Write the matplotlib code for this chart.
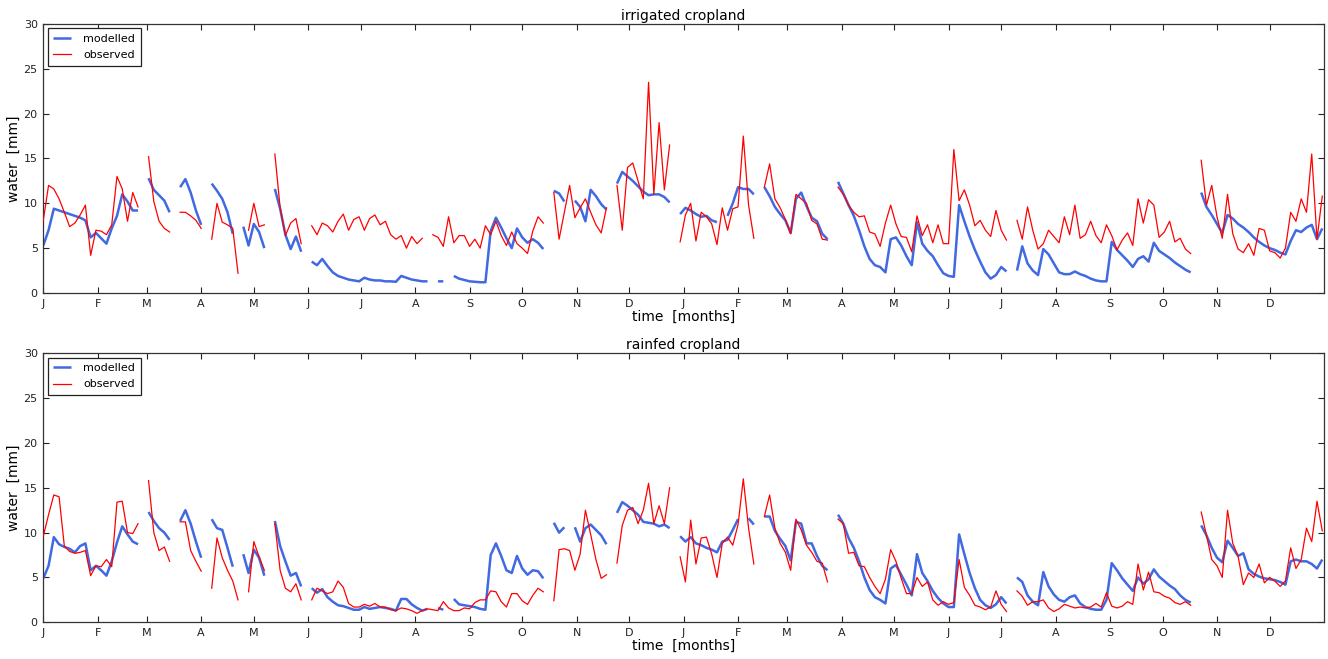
import numpy as np
import matplotlib
matplotlib.use("Agg")
import matplotlib.pyplot as plt

nan = np.nan

# ---- data: values every 3 days over two years (day 0 .. 729) ----
month_labels = ['J', 'F', 'M', 'A', 'M', 'J', 'J', 'A', 'S', 'O', 'N', 'D'] * 2
month_lengths = [31, 28, 31, 30, 31, 30, 31, 31, 30, 31, 30, 31] * 2
step_days = 3

irr_modelled = [
    5.3, 7.0, 9.4, 9.2, 9.0, 8.8, 8.6, 8.4, 8.1, 6.2, 6.7,
    6.1, 5.5, 7.2, 8.6, 11.0, 10.2, 9.2, 9.2, nan,
    12.8, 11.5, 10.9, 10.3, 9.0, nan, 11.8, 12.7, 11.2, 9.2,
    7.6, nan, 12.2, 11.4, 10.5, 9.0, 6.6, nan, 7.4, 5.3,
    7.7, 6.8, 5.0, nan, 11.6, 9.4, 6.5, 4.9, 6.3, 4.6, nan,
    3.5, 3.1, 3.8, 3.0, 2.3, 1.9, 1.7, 1.5, 1.4, 1.3,
    1.7, 1.5, 1.4, 1.4, 1.3, 1.3, 1.25, 1.9, 1.7, 1.5,
    1.4, 1.3, 1.3, nan, 1.3, 1.3, nan, 1.9, 1.6, 1.45,
    1.3, 1.25, 1.2, 1.2, 6.9, 8.4, 7.3, 6.1, 5.0, 7.2,
    6.2, 5.6, 6.0, 5.6, 4.9, nan, 11.4, 11.1, 10.2, nan, 10.3,
    9.6, 8.0, 11.5, 10.8, 9.9, 9.3, nan, 12.2, 13.5, 13.0,
    12.5, 11.9, 11.3, 10.9, 11.0, 11.0, 10.7, 10.1, nan, 8.8,
    9.5, 9.2, 8.8, 8.5, 8.6, 8.1, 7.9, nan, 8.6, 10.0,
    11.8, 11.6, 11.6, 11.0, nan, 11.8, 10.8, 9.6, 8.8, 8.1,
    6.7, 10.5, 11.2, 9.7, 8.4, 8.0, 6.6, 6.0, nan, 12.4,
    11.1, 9.8, 8.6, 7.0, 5.2, 3.8, 3.1, 2.9, 2.3, 6.0,
    6.2, 5.3, 4.1, 3.1, 7.9, 5.5, 4.7, 4.1, 3.1, 2.2,
    1.9, 1.8, 9.8, 8.0, 6.3, 4.8, 3.5, 2.3, 1.6, 2.0,
    2.9, 2.4, nan, 2.5, 5.2, 3.3, 2.5, 2.0, 4.9, 4.3, 3.3,
    2.3, 2.1, 2.1, 2.4, 2.1, 1.9, 1.6, 1.4, 1.3, 1.3,
    5.7, 4.8, 4.2, 3.6, 2.9, 3.8, 4.1, 3.5, 5.6, 4.7,
    4.3, 3.9, 3.4, 3.0, 2.6, 2.3, nan, 11.2, 9.6, 8.7,
    7.7, 6.7, 8.7, 8.3, 7.7, 7.3, 6.8, 6.2, 5.7, 5.3,
    5.0, 4.8, 4.5, 4.3, 5.8, 7.0, 6.8, 7.3, 7.6, 6.0, 7.2,
]

irr_observed = [
    8.1, 12.0, 11.6, 10.5, 9.0, 7.4, 7.8, 8.7, 9.8, 4.2, 7.0,
    6.9, 6.5, 7.6, 13.0, 11.6, 8.0, 11.2, 9.6, nan,
    15.2, 10.2, 8.0, 7.2, 6.8, nan, 9.0, 9.0, 8.6, 8.1,
    7.2, nan, 6.0, 10.0, 7.9, 7.6, 7.2, 2.2, nan, 7.0,
    10.0, 7.4, 7.6, nan, 15.5, 9.5, 6.4, 7.8, 8.3, 5.5, nan,
    7.5, 6.5, 7.8, 7.5, 6.8, 8.0, 8.8, 7.0, 8.2, 8.5,
    7.0, 8.3, 8.7, 7.6, 8.0, 6.5, 6.0, 6.4, 5.0, 6.3,
    5.5, 6.1, nan, 6.5, 6.2, 5.2, 8.5, 5.6, 6.4, 6.4,
    5.2, 6.0, 5.0, 7.5, 6.5, 8.0, 6.4, 5.3, 6.8, 5.5,
    5.0, 4.4, 6.9, 8.5, 7.8, nan, 11.2, 6.0, 9.0, 12.0, 8.4,
    9.5, 10.5, 9.0, 7.6, 6.7, 9.5, nan, 12.0, 7.0, 14.0,
    14.5, 12.5, 10.5, 23.5, 11.0, 19.0, 11.5, 16.5, nan, 5.7,
    8.7, 10.0, 5.8, 9.0, 8.5, 7.7, 5.4, 9.5, 7.0, 9.4,
    9.6, 17.5, 9.8, 6.1, nan, 11.8, 14.4, 10.5, 9.5, 8.2,
    6.6, 11.0, 10.5, 10.0, 8.1, 7.7, 6.0, 5.9, nan, 11.8,
    11.0, 9.8, 9.0, 8.5, 8.6, 6.8, 6.6, 5.2, 7.8, 9.8,
    7.7, 6.3, 6.2, 4.6, 8.6, 6.4, 7.6, 5.6, 7.6, 5.5,
    5.5, 16.0, 10.3, 11.5, 9.8, 7.5, 8.1, 7.0, 6.3, 9.2,
    7.0, 5.9, nan, 8.1, 6.0, 9.6, 7.0, 4.9, 5.5, 7.0, 6.3,
    5.6, 8.5, 6.5, 9.8, 6.1, 6.5, 8.0, 6.4, 5.6, 7.6,
    6.4, 4.8, 5.9, 6.7, 5.3, 10.5, 7.8, 10.4, 9.8, 6.2,
    6.8, 8.0, 5.7, 6.1, 4.9, 4.4, nan, 14.8, 9.8, 12.0,
    8.5, 6.1, 11.0, 6.6, 4.9, 4.5, 5.5, 4.2, 7.2, 7.0,
    4.7, 4.5, 3.9, 5.0, 9.0, 8.0, 10.5, 9.0, 15.5, 6.0, 10.8,
]

rain_modelled = [
    4.9, 6.3, 9.5, 8.7, 8.4, 8.2, 7.8, 8.5, 8.8, 5.8, 6.3,
    5.8, 5.2, 6.8, 8.9, 10.7, 9.8, 9.0, 8.7, nan,
    12.3, 11.3, 10.5, 10.0, 9.2, nan, 11.3, 12.5, 11.0, 9.0,
    7.2, nan, 11.5, 10.5, 10.3, 8.3, 6.2, nan, 7.6, 5.5,
    8.1, 7.2, 5.2, nan, 11.3, 8.5, 6.8, 5.2, 5.5, 4.0, nan,
    3.8, 3.3, 3.7, 2.8, 2.3, 1.9, 1.8, 1.6, 1.4, 1.4,
    1.7, 1.5, 1.6, 1.7, 1.6, 1.5, 1.3, 2.6, 2.6, 2.0,
    1.6, 1.3, 1.5, nan, 1.6, 1.4, nan, 2.6, 2.0, 1.9,
    1.8, 1.7, 1.5, 1.4, 7.5, 8.8, 7.4, 5.8, 5.5, 7.4,
    6.0, 5.3, 5.8, 5.7, 4.9, nan, 11.1, 10.0, 10.6, nan, 10.6,
    9.0, 10.5, 10.9, 10.3, 9.7, 8.7, nan, 12.2, 13.4, 13.0,
    12.5, 12.0, 11.2, 11.1, 11.0, 10.7, 10.9, 10.5, nan, 9.6,
    9.0, 9.5, 8.8, 8.6, 8.3, 8.1, 7.8, 9.0, 9.2, 10.3,
    11.5, nan, 11.6, 10.9, nan, 11.8, 11.8, 10.2, 9.3, 8.5,
    6.9, 11.2, 11.0, 8.8, 8.8, 7.4, 6.3, 5.8, nan, 12.0,
    11.0, 9.4, 8.3, 6.8, 5.0, 3.6, 2.8, 2.5, 2.1, 6.0,
    6.4, 5.3, 4.2, 3.0, 7.6, 5.5, 4.6, 3.5, 2.7, 2.1,
    1.7, 1.7, 9.8, 7.6, 5.5, 3.8, 2.5, 1.9, 1.6, 2.0,
    2.8, 2.1, nan, 5.0, 4.5, 3.0, 2.3, 1.9, 5.6, 4.0, 3.1,
    2.5, 2.3, 2.8, 3.0, 2.1, 1.7, 1.5, 1.4, 1.4, 2.5,
    6.6, 5.8, 4.9, 4.2, 3.5, 5.0, 4.3, 4.8, 5.9, 5.1,
    4.6, 4.1, 3.7, 3.0, 2.5, 2.2, nan, 10.8, 9.7, 8.3,
    7.2, 6.7, 9.1, 8.3, 7.4, 7.7, 5.9, 5.4, 5.1, 4.9,
    4.8, 4.7, 4.5, 4.2, 6.8, 7.0, 6.8, 6.8, 6.5, 6.0, 7.0,
]

rain_observed = [
    9.6, 12.0, 14.2, 14.0, 8.5, 7.9, 7.7, 7.8, 8.0, 5.2, 6.3,
    6.2, 7.0, 6.2, 13.4, 13.5, 10.0, 9.9, 11.0, nan,
    15.8, 10.0, 8.0, 8.4, 6.8, nan, 11.2, 11.2, 8.0, 6.8,
    5.7, nan, 3.8, 9.4, 7.2, 5.8, 4.6, 2.5, nan, 3.4,
    9.0, 7.3, 5.8, nan, 11.0, 5.8, 3.8, 3.4, 4.3, 2.5, nan,
    2.5, 3.8, 3.5, 3.2, 3.4, 4.6, 3.9, 2.1, 1.7, 1.7,
    2.0, 1.8, 2.1, 1.7, 1.7, 1.4, 1.3, 1.6, 1.5, 1.3,
    1.0, 1.3, 1.5, 1.4, 1.3, 2.3, 1.6, 1.3, 1.3, 1.6,
    1.5, 2.2, 2.5, 2.5, 3.5, 3.4, 2.3, 1.7, 3.2, 3.2,
    2.4, 2.0, 3.0, 3.8, 3.4, nan, 2.4, 8.1, 8.2, 8.0, 5.8,
    7.6, 12.5, 9.8, 7.0, 4.9, 5.3, nan, 6.6, 10.8, 12.5,
    12.8, 11.0, 12.5, 15.5, 11.0, 13.0, 11.0, 15.0, nan, 7.3,
    4.5, 11.4, 6.5, 9.4, 9.5, 7.6, 5.0, 8.8, 9.5, 8.6,
    10.9, 16.0, 10.5, 6.5, nan, 11.8, 14.2, 10.5, 8.8, 7.8,
    5.8, 11.5, 10.3, 8.6, 7.8, 6.8, 6.6, 4.5, nan, 11.5,
    11.0, 7.7, 7.8, 6.3, 6.2, 5.0, 4.0, 3.2, 4.8, 8.1,
    6.8, 4.9, 3.2, 3.2, 5.0, 4.0, 4.5, 2.5, 1.9, 2.3,
    2.0, 2.2, 7.0, 3.9, 3.0, 1.9, 1.7, 1.4, 1.7, 3.5,
    2.0, 1.2, nan, 3.5, 2.9, 1.9, 2.3, 2.3, 2.5, 1.6, 1.2,
    1.5, 2.0, 1.8, 1.6, 1.7, 1.6, 1.7, 2.1, 1.7, 3.3,
    1.8, 1.6, 1.8, 2.3, 2.0, 6.5, 3.6, 5.6, 3.4, 3.3,
    2.9, 2.7, 2.2, 2.0, 2.3, 1.9, nan, 12.3, 9.7, 7.0,
    6.3, 5.0, 12.5, 8.8, 7.4, 4.2, 5.5, 5.0, 6.5, 4.4,
    5.0, 4.6, 4.0, 4.6, 8.3, 6.0, 7.0, 10.5, 9.0, 13.5, 10.2,
]

titles = ['irrigated cropland', 'rainfed cropland']
series_names = ['modelled', 'observed']
y_ticks = [0, 5, 10, 15, 20, 25, 30]

# ---- figure ----
fig = plt.figure(figsize=(13.28, 6.59), dpi=100)
ax_top = fig.add_axes([0.0326, 0.5554, 0.9644, 0.4082])
ax_bot = fig.add_axes([0.0326, 0.0557, 0.9644, 0.4082])

month_starts = np.concatenate([[0], np.cumsum(month_lengths)[:-1]])
total_days = int(np.sum(month_lengths))

panels = [(ax_top, irr_modelled, irr_observed, titles[0]),
          (ax_bot, rain_modelled, rain_observed, titles[1])]

for ax, mod, obs, ttl in panels:
    mod = np.asarray(mod, dtype=float)
    obs = np.asarray(obs, dtype=float)
    d_mod = np.arange(len(mod)) * step_days
    d_obs = np.arange(len(obs)) * step_days
    ax.plot(d_mod, mod, color='#4169E1', lw=1.8, label=series_names[0],
            solid_capstyle='butt', zorder=2)
    ax.plot(d_obs, obs, color='red', lw=0.9, label=series_names[1], zorder=3)
    ax.set_xlim(0, total_days)
    ax.set_ylim(0, 30)
    ax.set_yticks(y_ticks)
    ax.set_xticks(month_starts)
    ax.set_xticklabels(month_labels)
    ax.tick_params(direction='in', top=True, right=True, length=4,
                   width=0.8, labelsize=8, pad=4, colors='#222222')
    for sp in ax.spines.values():
        sp.set_linewidth(0.9)
        sp.set_color('#333333')
    ax.set_title(ttl, fontsize=10, pad=3)
    ax.set_xlabel('time  [months]', fontsize=10, labelpad=1)
    ax.set_ylabel('water  [mm]', fontsize=10, labelpad=2)
    leg = ax.legend(loc='upper left', fontsize=8, fancybox=False,
                    edgecolor='#222222', framealpha=1, borderaxespad=0.4,
                    handlelength=1.6, handletextpad=1.1, borderpad=0.5,
                    labelspacing=0.55)
    leg.get_frame().set_linewidth(0.9)

fig.savefig('out.png', dpi=100)
